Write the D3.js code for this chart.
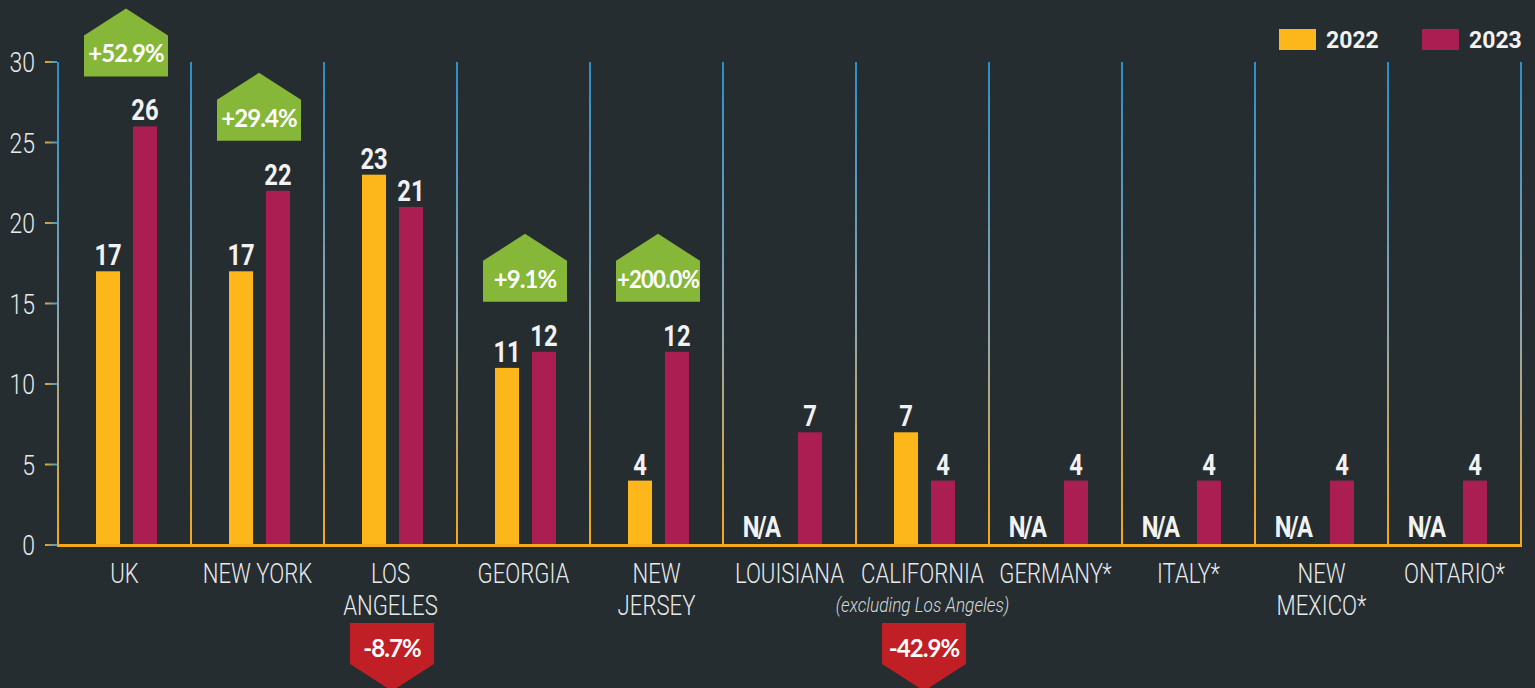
<!DOCTYPE html>
<html>
<head>
<meta charset="utf-8">
<script src="https://cdn.jsdelivr.net/npm/d3@7"></script>
<style>
  html, body { margin: 0; padding: 0; background: #252d31; }
  svg { display: block; }
</style>
</head>
<body>
<svg id="chart" width="1535" height="688"></svg>
<script>
// ------------------- data -------------------
var categories = ["UK", "NEW YORK", "LOS ANGELES", "GEORGIA", "NEW JERSEY", "LOUISIANA",
  "CALIFORNIA", "GERMANY*", "ITALY*", "NEW MEXICO*", "ONTARIO*"];
var categoryLines = [["UK"], ["NEW YORK"], ["LOS", "ANGELES"], ["GEORGIA"], ["NEW", "JERSEY"],
  ["LOUISIANA"], ["CALIFORNIA"], ["GERMANY*"], ["ITALY*"], ["NEW", "MEXICO*"], ["ONTARIO*"]];
var categoryNotes = [null, null, null, null, null, null, "(excluding Los Angeles)", null, null, null, null];
var years = ["2022", "2023"];
var values2022 = [17, 17, 23, 11, 4, null, 7, null, null, null, null];
var values2023 = [26, 22, 21, 12, 12, 7, 4, 4, 4, 4, 4];
var changes = ["+52.9%", "+29.4%", "-8.7%", "+9.1%", "+200.0%", null, "-42.9%", null, null, null, null];
var yTicks = [0, 5, 10, 15, 20, 25, 30];

// ------------------- setup -------------------
var svg = d3.select("#chart");
var colors = {"2022": "#fdb71b", "2023": "#ab1e51"};
var squeeze = 0.82; // no condensed face installed, so narrow Roboto by hand

var x = d3.scaleBand().domain(categories).range([58, 1521]);
var sub = d3.scaleBand().domain(years).range([38, 99]).paddingInner(0.35);
var y = d3.scaleLinear().domain([0, 30]).range([545, 62]);

function narrowText(sel, tx, ty) {
  return sel.append("text")
    .attr("transform", "translate(" + tx + "," + ty + ") scale(" + squeeze + ",1)")
    .style("font-family", "Roboto, sans-serif");
}

var defs = svg.append("defs");
var vgrad = defs.append("linearGradient")
    .attr("id", "sepGrad").attr("gradientUnits", "userSpaceOnUse")
    .attr("x1", 0).attr("y1", y(30)).attr("x2", 0).attr("y2", y(0));
vgrad.append("stop").attr("offset", "0%").attr("stop-color", "#2b8fc8");
vgrad.append("stop").attr("offset", "55%").attr("stop-color", "#8fa6ad");
vgrad.append("stop").attr("offset", "100%").attr("stop-color", "#f4a81b");

var hgrad = defs.append("linearGradient")
    .attr("id", "tickGrad").attr("x1", "0%").attr("x2", "100%").attr("y1", 0).attr("y2", 0);
hgrad.append("stop").attr("offset", "0%").attr("stop-color", "#f4a81b");
hgrad.append("stop").attr("offset", "100%").attr("stop-color", "#3a9ad0");

var rows = categories.map(function(c, i) {
  return {name: c, lines: categoryLines[i], note: categoryNotes[i],
          v2022: values2022[i], v2023: values2023[i], change: changes[i]};
});

// ------------------- separators -------------------
var sepX = categories.map(function(c) { return x(c); }).concat([x.range()[1]]);
svg.append("g").selectAll("rect.sep")
  .data(sepX)
  .enter().append("rect")
    .attr("class", "sep")
    .attr("x", function(d) { return d - 1; })
    .attr("y", y(30))
    .attr("width", 2)
    .attr("height", y(0) - y(30))
    .attr("fill", "url(#sepGrad)");

// ------------------- y axis ticks -------------------
var yAxis = svg.append("g");
yAxis.selectAll("rect.tick")
  .data(yTicks)
  .enter().append("rect")
    .attr("x", 45).attr("y", function(d) { return y(d) - 1; })
    .attr("width", 12).attr("height", 2)
    .attr("fill", "url(#tickGrad)");
yTicks.forEach(function(t) {
  narrowText(yAxis, 35, y(t) + 10)
    .attr("text-anchor", "end")
    .attr("fill", "#e9ebeb")
    .style("font-weight", 300)
    .style("font-size", "28px")
    .text(t);
});

// ------------------- bars -------------------
var group = svg.append("g").selectAll("g.cat")
  .data(rows)
  .enter().append("g")
    .attr("class", "cat")
    .attr("transform", function(d) { return "translate(" + x(d.name) + ",0)"; });

years.forEach(function(yr) {
  var key = "v" + yr;
  group.filter(function(d) { return d[key] != null; })
    .append("rect")
      .attr("x", sub(yr))
      .attr("y", function(d) { return y(d[key]); })
      .attr("width", sub.bandwidth())
      .attr("height", function(d) { return y(0) - y(d[key]) + 1; })
      .attr("fill", colors[yr]);

  group.each(function(d) {
    var v = d[key];
    var cx = sub(yr) + sub.bandwidth() / 2 + (v == null ? -12 : 0);
    var cy = v == null ? y(0) - 8 : y(v) - 6;
    narrowText(d3.select(this), cx, cy)
      .attr("text-anchor", "middle")
      .attr("fill", "#f2f2f2")
      .style("font-weight", "bold")
      .style("font-size", "29px")
      .style("letter-spacing", v == null ? "-2px" : "0px")
      .text(v == null ? "N/A" : v);
  });
});

// baseline
svg.append("rect")
  .attr("x", x.range()[0] - 1).attr("y", y(0) - 1)
  .attr("width", x.range()[1] - x.range()[0] + 2).attr("height", 3)
  .attr("fill", "#f4a81b");

// ------------------- category labels -------------------
group.each(function(d) {
  var g = d3.select(this);
  var cx = x.bandwidth() / 2;
  d.lines.forEach(function(line, i) {
    narrowText(g, cx, 583 + i * 32)
      .attr("text-anchor", "middle")
      .attr("fill", "#e9ebeb")
      .style("font-weight", 300)
      .style("font-size", "27px")
      .text(line);
  });
  if (d.note) {
    narrowText(g, cx, 612)
      .attr("text-anchor", "middle")
      .attr("fill", "#d6d9da")
      .style("font-style", "italic")
      .style("font-weight", 300)
      .style("font-size", "21px")
      .text(d.note);
  }
});

// ------------------- change badges -------------------
var bw = 84, bh = 41, roof = 27;
group.filter(function(d) { return d.change; }).each(function(d) {
  var g = d3.select(this);
  var cx = x.bandwidth() / 2 + 1.5;
  var up = d.change.charAt(0) === "+";
  var path, ty;
  if (up) {
    var bottom = Math.min(y(d.v2023), y(d.v2022)) - 50;
    var top = bottom - bh - roof;
    path = "M" + (cx - bw / 2) + "," + (top + roof) + "L" + cx + "," + top +
      "L" + (cx + bw / 2) + "," + (top + roof) + "L" + (cx + bw / 2) + "," + bottom +
      "L" + (cx - bw / 2) + "," + bottom + "Z";
    ty = bottom - 14;
  } else {
    var t = 623;
    path = "M" + (cx - bw / 2) + "," + t + "L" + (cx + bw / 2) + "," + t +
      "L" + (cx + bw / 2) + "," + (t + bh) + "L" + cx + "," + (t + bh + roof) +
      "L" + (cx - bw / 2) + "," + (t + bh) + "Z";
    ty = t + 34;
  }
  g.append("path").attr("d", path)
    .attr("fill", up ? "#86b738" : "#c01f26");
  var label = g.append("text")
    .attr("x", cx).attr("y", ty)
    .attr("text-anchor", "middle")
    .attr("fill", "#ffffff")
    .style("font-family", "Lato, 'Open Sans', sans-serif")
    .style("font-weight", "bold")
    .style("font-size", "24px")
    .style("letter-spacing", "-0.9px")
    .text(d.change);
  if (label.node().getComputedTextLength() > bw) {
    label.attr("textLength", bw - 2).attr("lengthAdjust", "spacingAndGlyphs");
  }
});

// ------------------- legend -------------------
var legend = svg.append("g").selectAll("g.leg")
  .data(years)
  .enter().append("g")
    .attr("transform", function(d, i) { return "translate(" + (1279 + i * 143) + ",29)"; });
legend.append("rect")
  .attr("width", 37).attr("height", 21)
  .attr("fill", function(d) { return colors[d]; });
legend.append("text")
  .attr("x", 47).attr("y", 19)
  .attr("fill", "#f2f2f2")
  .style("font-family", "Roboto, sans-serif")
  .style("font-weight", "bold")
  .style("font-size", "23px")
  .text(function(d) { return d; });
</script>
</body>
</html>
